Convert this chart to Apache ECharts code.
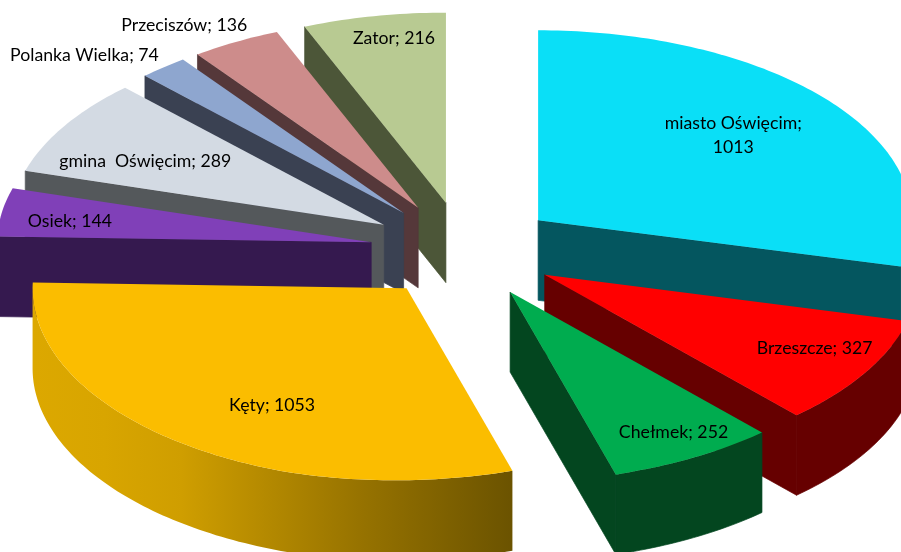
<!DOCTYPE html>
<html><head><meta charset="utf-8">
<style>html,body{margin:0;padding:0;background:#fff}#c{width:901px;height:552px}</style>
<script src="https://cdn.jsdelivr.net/npm/echarts@6/dist/echarts.min.js"></script>
</head><body><div id="c"></div>
<script>
const categories = ['miasto Oświęcim','Brzeszcze','Chełmek','Kęty','Osiek','gmina  Oświęcim','Polanka Wielka','Przeciszów','Zator'];
const values = [1013,327,252,1053,144,289,74,136,216];
const topColors = ['#0adff7','#ff0000','#00ac4f','#fbbd00','#8040b8','#d3dae3','#8ea6cf','#cd8c8b','#b8ca92'];
const sideColors = ['#04565f','#660000','#03461f','#6b5300','#35194f','#54585b','#3a4152','#55383a','#4c5638'];
const labelFactors = [[.669,.73],[.85,.75],[.90,.85],[.595,.775],[.825,.71],[.755,.64],[1.343,1.08],[1.297,1.10],[.73,.88]];
const drawOrder = [8,7,6,5,4,0,1,2,3];

const CX=464, CY=250, RX=374, RY=190, RY_EXTRA_LEFT=4, DEPTH=80, EXPLODE=94, TILT=190/370;
const LABEL_RX=370, LABEL_RY=190;
const total = values.reduce((a,b)=>a+b,0);
const starts=[]; values.reduce((acc,v,i)=>{starts[i]=acc/total*2*Math.PI; return acc+v;},0);
const poly=(pts,fill,edge)=>({type:'polygon',shape:{points:pts},silent:true,
  style:edge?{fill:fill,stroke:edge,lineWidth:.7,lineJoin:'round'}:{fill:fill}});
// the front-left of the disc is drawn slightly fuller than the rest
const ryAt=a=>{const deg=a*180/Math.PI; return RY+RY_EXTRA_LEFT*Math.min(1,Math.max(0,(deg-160)/40))*(deg<=270?1:0);};

function renderItem(params, api){
  const v=api.value(0), i=api.value(1);
  const a0=starts[i], a1=a0+v/total*2*Math.PI, m=(a0+a1)/2;
  const ax=CX+EXPLODE*Math.sin(m), ay=CY-EXPLODE*TILT*Math.cos(m);
  const pt=(a,d)=>[ax+RX*Math.sin(a), ay-ryAt(a)*Math.cos(a)+(d||0)];
  const n=Math.max(8,Math.round((a1-a0)/(Math.PI/180)));
  const arc=[]; for(let k=0;k<=n;k++) arc.push(a0+(a1-a0)*k/n);
  const kids=[];
  const apex=[ax,ay], apexB=[ax,ay+DEPTH];
  const side=sideColors[i];
  // cut faces seen from the front
  if(Math.sin(a0)<0) kids.push(poly([apex,pt(a0),pt(a0,DEPTH),apexB],side,side));
  if(Math.sin(a1)>0) kids.push(poly([apex,pt(a1),pt(a1,DEPTH),apexB],side,side));
  // outer rim: front half of the ellipse only
  const front=arc.filter(a=>Math.cos(a)<=0);
  if(front.length>1){
    const rim=front.map(a=>pt(a)).concat(front.slice().reverse().map(a=>pt(a,DEPTH)));
    if(categories[i]==='Kęty'){
      kids.push(poly(rim,{type:'linear',x:0,y:0,x2:1,y2:0,colorStops:[
        {offset:0,color:'#dca800'},{offset:.15,color:'#d8a500'},{offset:.31,color:'#cf9e00'},
        {offset:.68,color:'#977300'},{offset:1,color:side}]}));
    } else kids.push(poly(rim,side,side));
  }
  kids.push(poly([apex].concat(arc.map(a=>pt(a))),topColors[i]));
  const f=labelFactors[i];
  const txt = i===0 ? categories[i]+';\n'+values[i] : categories[i]+'; '+values[i];
  kids.push({type:'text',z2:50,silent:true,
    style:{x:ax+f[0]*LABEL_RX*Math.sin(m),y:ay-f[1]*LABEL_RY*Math.cos(m),text:txt,fill:'#000',
      font:'17.7px Lato',align:'center',verticalAlign:'middle',lineHeight:24}});
  return {type:'group',children:kids};
}

const chart=echarts.init(document.getElementById('c'),null,{renderer:'canvas'});
chart.setOption({
  animation:false,
  backgroundColor:'#fff',
  series:[{type:'custom',coordinateSystem:'none',renderItem:renderItem,
    encode:{value:0},clip:false,silent:true,
    data:drawOrder.map(i=>[values[i],i])}]
});
</script></body></html>
